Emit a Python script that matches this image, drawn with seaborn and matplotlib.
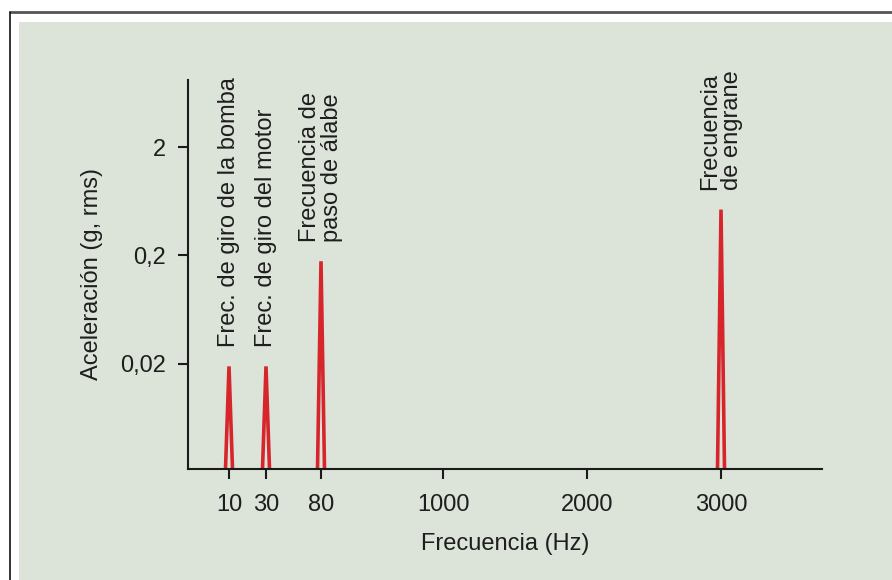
import numpy as np
import matplotlib
matplotlib.use("Agg")
import matplotlib.pyplot as plt
import seaborn as sns
from matplotlib.patches import Rectangle
from matplotlib.lines import Line2D

# Datos del espectro
frecuencias = [10, 30, 80, 3000]
aceleraciones = [0.019, 0.019, 0.177, 0.53]
etiquetas = ["Frec. de giro de la bomba", "Frec. de giro del motor",
             "Frecuencia de\npaso de álabe", "Frecuencia\nde engrane"]

xticks = [10, 30, 80, 1000, 2000, 3000]
xticklabels = ["10", "30", "80", "1000", "2000", "3000"]
yticks = [0.02, 0.2, 2]
yticklabels = ["0,02", "0,2", "2"]

# eje x no lineal: posicion relativa de cada marca
pos_marcas = [229, 266, 321, 443, 587, 721]

sns.set_theme(style="white")
plt.rcParams['font.family'] = ['Liberation Sans', 'DejaVu Sans']

fondo = "#dce3d9"
texto = "#1e1e1e"
rojo = "#d6262c"
fs = 17

# escala por tramos, con extrapolacion lineal en los extremos
F = np.array(xticks, dtype=float)
P = np.array(pos_marcas, dtype=float)
s0 = (P[1] - P[0]) / (F[1] - F[0])
s1 = (P[-1] - P[-2]) / (F[-1] - F[-2])
F_ext = np.concatenate([[F[0] - 1e5], F, [F[-1] + 1e5]])
P_ext = np.concatenate([[P[0] - 1e5 * s0], P, [P[-1] + 1e5 * s1]])

def adelante(x):
    return np.interp(x, F_ext, P_ext)

def atras(p):
    return np.interp(p, P_ext, F_ext)

fig = plt.figure(figsize=(8.92, 5.8), dpi=100)
fig.patch.set_facecolor("white")
# marco y fondo
fig.patches.append(Rectangle((19 / 892, 0), 1, 1 - 22 / 580, transform=fig.transFigure,
                             facecolor=fondo, edgecolor="none", zorder=-2))
fig.lines.append(Line2D([10 / 892, 1], [1 - 12 / 580, 1 - 12 / 580], transform=fig.transFigure,
                        color="#555555", lw=2))
fig.lines.append(Line2D([10 / 892, 10 / 892], [0, 1 - 12 / 580], transform=fig.transFigure,
                        color="#111111", lw=1.2))

ax = fig.add_axes([188 / 892, 1 - 469 / 580, (822 - 188) / 892, (469 - 80) / 580])
ax.set_facecolor("none")
ax.set_xscale("function", functions=(adelante, atras))
ax.set_yscale("log")
ax.set_xlim(atras(188), atras(822))
ybot, ytop = 0.00215, 8.3
ax.set_ylim(ybot, ytop)

for f, a, lab in zip(frecuencias, aceleraciones, etiquetas):
    p = adelante(f)
    xs = atras(np.array([p - 3.5, p, p + 3.5]))
    sns.lineplot(x=xs, y=[ybot, a, ybot], ax=ax, color=rojo, lw=2.6,
                 sort=False, estimator=None, solid_joinstyle="miter")
    ax.annotate(lab, xy=(f, a), xytext=(0, 14), textcoords="offset points",
                rotation=90, ha="center", va="bottom", multialignment="left",
                fontsize=fs, color=texto, linespacing=1.0)

ax.set_xticks(xticks)
ax.set_xticklabels(xticklabels)
ax.set_yticks(yticks)
ax.set_yticklabels(yticklabels)
ax.minorticks_off()
ax.tick_params(axis="both", which="both", direction="out", length=7, width=1.5,
               colors="#1a1a1a", labelcolor=texto, labelsize=fs, pad=9)
ax.tick_params(axis="x", bottom=True, pad=11)
ax.tick_params(axis="y", left=True)
sns.despine(ax=ax)
for s in ["left", "bottom"]:
    ax.spines[s].set_color("#1a1a1a")
    ax.spines[s].set_linewidth(1.5)

ax.set_xlabel("Frecuencia (Hz)", fontsize=fs, color=texto, labelpad=12)
ax.set_ylabel("Aceleración (g, rms)", fontsize=fs, color=texto, labelpad=12)

fig.savefig("out.png", dpi=100)
